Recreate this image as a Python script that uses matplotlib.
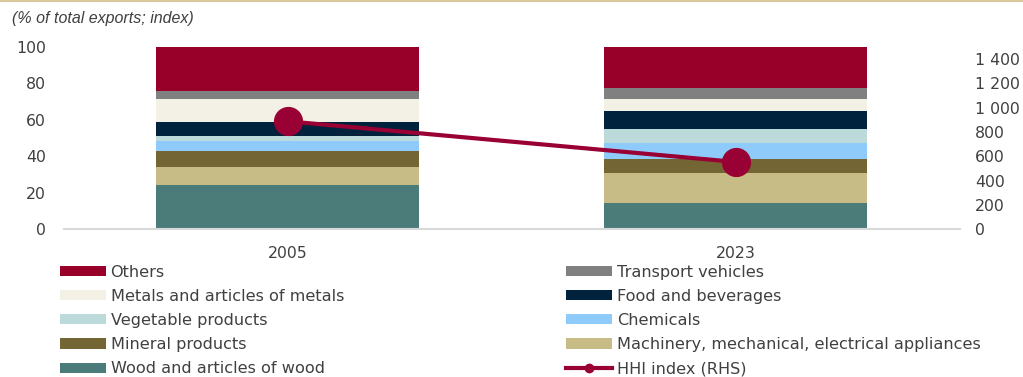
import numpy as np
import matplotlib.pyplot as plt
from matplotlib.patches import Patch
from matplotlib.lines import Line2D

# Dados (% das exportações totais)
anos = ['2005', '2023']
wood = [24.5, 14.4]
machinery = [9.5, 16.4]
mineral = [9.1, 7.7]
chemicals = [5.5, 8.8]
vegetable = [2.6, 7.8]
food = [7.3, 9.7]
metals = [12.8, 6.4]
transport = [4.2, 6.0]
others = [24.6, 22.8]
hhi = [887, 553]

series = [
    ('Wood and articles of wood', wood, '#4C7C7A'),
    ('Machinery, mechanical, electrical appliances', machinery, '#C8BC86'),
    ('Mineral products', mineral, '#736634'),
    ('Chemicals', chemicals, '#8FCBFA'),
    ('Vegetable products', vegetable, '#BCDADA'),
    ('Food and beverages', food, '#00223C'),
    ('Metals and articles of metals', metals, '#F3F0E6'),
    ('Transport vehicles', transport, '#808080'),
    ('Others', others, '#990029'),
]
cor_hhi = '#990033'
cor_texto = '#404040'

plt.rcParams['font.family'] = ['DejaVu Sans']

fig = plt.figure(figsize=(10.23, 3.77), dpi=100)
ax = fig.add_axes([0.0623, 0.392, 0.8757, 0.484])

x = np.arange(len(anos))
base = np.zeros(len(anos))
handles = {}
for nome, vals, cor in series:
    ax.bar(x, vals, 0.587, bottom=base, color=cor, linewidth=0)
    base += np.array(vals)
    handles[nome] = Patch(facecolor=cor, edgecolor='none')

ax.set_xlim(-0.5, 1.5)
ax.set_ylim(0, 100)
ax.set_yticks(np.arange(0, 101, 20))
ax.set_xticks(x)
ax.set_xticklabels(anos)
for s in ['top', 'right', 'left']:
    ax.spines[s].set_visible(False)
ax.spines['bottom'].set_color('#D9D9D9')
ax.spines['bottom'].set_linewidth(1.5)
ax.tick_params(axis='y', length=0, pad=13, labelsize=11.3, labelcolor=cor_texto)
ax.tick_params(axis='x', length=0, pad=12, labelsize=11.3, labelcolor=cor_texto)

# Eixo direito (HHI)
ax2 = ax.twinx()
ax2.plot(x, hhi, color=cor_hhi, lw=3, marker='o', markersize=20, zorder=5)
ax2.set_ylim(0, 1500)
ax2.set_yticks(np.arange(0, 1401, 200))
ax2.set_yticklabels([f'{v:,}'.replace(',', ' ') for v in range(0, 1401, 200)])
for s in ['top', 'right', 'left', 'bottom']:
    ax2.spines[s].set_visible(False)
ax2.tick_params(axis='y', length=0, pad=11, labelsize=11.3, labelcolor=cor_texto)

# Título
fig.text(0.012, 0.95, '(% of total exports; index)', fontsize=11.5, style='italic',
         color=cor_texto, family=['Liberation Sans'], ha='left', va='center')
# Linha superior
fig.add_artist(Line2D([0, 1], [0.998, 0.998], color='#D8C89A', lw=1.5, transform=fig.transFigure))

# Legendas (duas colunas)
hhi_handle = Line2D([], [], color=cor_hhi, lw=3, marker='o', markersize=6)
esq = ['Others', 'Metals and articles of metals', 'Vegetable products', 'Mineral products',
       'Wood and articles of wood']
dir_ = ['Transport vehicles', 'Food and beverages', 'Chemicals',
        'Machinery, mechanical, electrical appliances']
kw = dict(frameon=False, fontsize=11.6, handlelength=2.85, handleheight=0.6,
          handletextpad=0.3, labelspacing=0.57, borderpad=0, borderaxespad=0,
          labelcolor=cor_texto)
leg1 = fig.legend([handles[n] for n in esq], esq, loc='upper left',
                  bbox_to_anchor=(0.0585, 0.298), **kw)
leg2 = fig.legend([handles[n] for n in dir_] + [hhi_handle], dir_ + ['HHI index (RHS)'],
                  loc='upper left', bbox_to_anchor=(0.5535, 0.298), **kw)

plt.savefig('out.png', dpi=100)
